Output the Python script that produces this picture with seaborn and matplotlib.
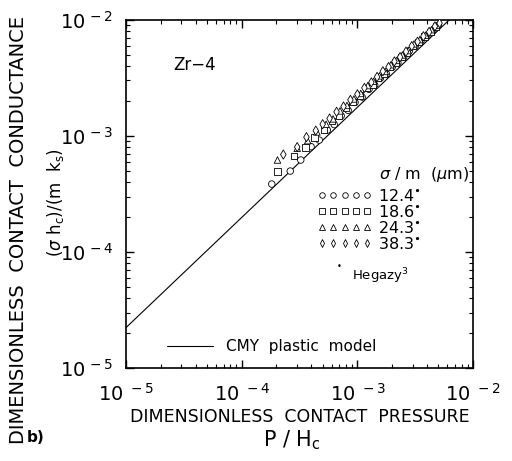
import numpy as np
import pandas as pd
import matplotlib
matplotlib.use('Agg')
import matplotlib.pyplot as plt
from matplotlib.lines import Line2D
from matplotlib import ticker
import seaborn as sns

# dados (Zr-4)
p_124 = [1.82e-4, 2.63e-4, 3.24e-4, 3.98e-4, 4.68e-4, 5.50e-4, 6.31e-4, 7.24e-4, 8.32e-4, 9.55e-4,
         1.10e-3, 1.26e-3, 1.41e-3, 1.58e-3, 1.78e-3, 2.00e-3, 2.24e-3, 2.51e-3, 2.82e-3, 3.16e-3,
         3.55e-3, 3.98e-3, 4.47e-3, 5.01e-3]
h_124 = [3.84e-4, 4.97e-4, 6.19e-4, 8.07e-4, 9.19e-4, 1.12e-3, 1.25e-3, 1.49e-3, 1.66e-3, 1.94e-3,
         2.16e-3, 2.52e-3, 2.75e-3, 3.14e-3, 3.42e-3, 3.91e-3, 4.26e-3, 4.75e-3, 5.43e-3, 5.92e-3,
         6.60e-3, 7.19e-3, 8.02e-3, 8.95e-3]

p_186 = [2.04e-4, 2.82e-4, 3.55e-4, 4.27e-4, 5.13e-4, 6.03e-4, 6.92e-4, 7.94e-4, 9.12e-4, 1.05e-3,
         1.20e-3, 1.35e-3, 1.51e-3, 1.70e-3, 1.91e-3, 2.14e-3, 2.40e-3, 2.69e-3, 3.02e-3, 3.39e-3,
         3.80e-3, 4.27e-3, 4.79e-3]
h_186 = [4.91e-4, 6.68e-4, 7.93e-4, 9.67e-4, 1.13e-3, 1.34e-3, 1.50e-3, 1.75e-3, 1.95e-3, 2.22e-3,
         2.59e-3, 2.76e-3, 3.15e-3, 3.43e-3, 3.92e-3, 4.27e-3, 4.76e-3, 5.19e-3, 5.93e-3, 6.46e-3,
         7.21e-3, 7.86e-3, 8.77e-3]

p_243 = [2.04e-4, 3.02e-4, 3.72e-4, 4.47e-4, 5.37e-4, 6.17e-4, 7.08e-4, 8.13e-4, 9.33e-4, 1.07e-3,
         1.23e-3, 1.38e-3, 1.55e-3, 1.74e-3, 1.95e-3, 2.19e-3, 2.45e-3, 2.75e-3, 3.09e-3, 3.47e-3,
         3.89e-3, 4.37e-3, 4.90e-3]
h_243 = [6.19e-4, 7.82e-4, 9.09e-4, 1.08e-3, 1.26e-3, 1.40e-3, 1.64e-3, 1.83e-3, 2.08e-3, 2.32e-3,
         2.71e-3, 2.95e-3, 3.29e-3, 3.59e-3, 4.10e-3, 4.47e-3, 4.98e-3, 5.43e-3, 6.20e-3, 6.76e-3,
         7.37e-3, 8.22e-3, 8.96e-3]

p_383 = [2.29e-4, 3.02e-4, 3.63e-4, 4.37e-4, 5.01e-4, 5.75e-4, 6.61e-4, 7.59e-4, 8.71e-4, 1.00e-3,
         1.15e-3, 1.32e-3, 1.48e-3, 1.66e-3, 1.86e-3, 2.09e-3, 2.34e-3, 2.63e-3, 2.95e-3, 3.31e-3,
         3.72e-3, 4.17e-3, 4.68e-3, 5.13e-3]
h_383 = [6.90e-4, 8.00e-4, 9.75e-4, 1.11e-3, 1.26e-3, 1.41e-3, 1.61e-3, 1.79e-3, 2.04e-3, 2.28e-3,
         2.59e-3, 2.89e-3, 3.22e-3, 3.60e-3, 3.92e-3, 4.38e-3, 4.77e-3, 5.32e-3, 5.93e-3, 6.47e-3,
         7.22e-3, 7.87e-3, 8.78e-3, 9.36e-3]

# modelo CMY (extremos da reta)
p_cmy = [1e-5, 1e-2]
h_cmy = [2.22e-5, 1.57e-2]

series = ['12.4', '18.6', '24.3', '38.3']
marcadores = {'12.4': 'o', '18.6': 's', '24.3': '^', '38.3': 'd'}
tick_vals = [1e-5, 1e-4, 1e-3, 1e-2]
xtick_labels = [r'$10^{\ -5}$', r'$10^{\ -4}$', r'$10^{\ -3}$', r'$10^{\ -2}$']
ytick_labels = [r'$10^{\,-5}$', r'$10^{\,-4}$', r'$10^{\,-3}$', r'$10^{\,-2}$']

dados = pd.concat([
    pd.DataFrame({'P': p_124, 'h': h_124, 'sigma': '12.4'}),
    pd.DataFrame({'P': p_186, 'h': h_186, 'sigma': '18.6'}),
    pd.DataFrame({'P': p_243, 'h': h_243, 'sigma': '24.3'}),
    pd.DataFrame({'P': p_383, 'h': h_383, 'sigma': '38.3'}),
])

sns.set_style('ticks')
plt.rcParams['font.family'] = ['DejaVu Sans']
plt.rcParams['mathtext.fontset'] = 'dejavusans'
plt.rcParams['text.color'] = 'black'
plt.rcParams['axes.labelcolor'] = 'black'
plt.rcParams['xtick.color'] = 'black'
plt.rcParams['ytick.color'] = 'black'

fig = plt.figure(figsize=(5.12, 4.61), dpi=100)
ax = fig.add_axes([0.246, 0.202, 0.678, 0.755])

sns.lineplot(x=p_cmy, y=h_cmy, ax=ax, color='black', linewidth=0.8)
sns.scatterplot(data=dados, x='P', y='h', style='sigma', markers=marcadores, ax=ax,
                color='white', edgecolor='black', linewidth=0.6, s=22, legend=False, zorder=3)

ax.set_xscale('log')
ax.set_yscale('log')
ax.set_xlim(1e-5, 1e-2)
ax.set_ylim(1e-5, 1e-2)
ax.set_xticks(tick_vals, xtick_labels)
ax.set_yticks(tick_vals, ytick_labels)
for eixo in (ax.xaxis, ax.yaxis):
    eixo.set_minor_locator(ticker.LogLocator(base=10, subs=np.arange(2, 10)))
    eixo.set_minor_formatter(ticker.NullFormatter())
ax.tick_params(which='both', direction='in', top=True, right=True, labelsize=14)
ax.tick_params(which='major', length=6, width=1)
ax.tick_params(which='minor', length=3, width=0.8)
ax.tick_params(axis='x', pad=11)
ax.tick_params(axis='y', pad=9)
for s in ax.spines.values():
    s.set_linewidth(1.2)
    s.set_color('black')

ax.set_xlabel('DIMENSIONLESS  CONTACT  PRESSURE', fontsize=12.5, labelpad=2)
ax.set_ylabel('')

fig.text(0.57, 0.045, r'P / H$_{\rm c}$', fontsize=15, ha='center', va='center')
fig.text(0.037, 0.5, 'DIMENSIONLESS  CONTACT  CONDUCTANCE', fontsize=14, rotation=90,
         ha='center', va='center')
fig.text(0.108, 0.56, r'($\sigma$ h$_{\rm c}$)/(m  k$_{\rm s}$)', fontsize=12, rotation=90,
         ha='center', va='center')
fig.text(0.07, 0.05, 'b)', fontsize=11, fontweight='bold', ha='center', va='center')

ax.text(0.135, 0.871, 'Zr−4', transform=ax.transAxes, fontsize=12, va='center')

# legenda do modelo
leg1 = ax.legend(handles=[Line2D([], [], color='black', linewidth=0.8)],
                 labels=['CMY  plastic  model'], loc='center left',
                 bbox_to_anchor=(0.08, 0.06), frameon=False, fontsize=11,
                 handlelength=3.0)
ax.add_artist(leg1)

# legenda das rugosidades
handles = [Line2D([], [], linestyle='none', marker=marcadores[k], markerfacecolor='white',
                  markeredgecolor='black', markersize=4, markeredgewidth=0.6) for k in series]
rotulos = [k + r'$^{\bullet}$' for k in series]
ax.legend(handles=handles, labels=rotulos, loc='center left', bbox_to_anchor=(0.51, 0.425),
          frameon=False, fontsize=11.5, numpoints=5, handlelength=3.4, handletextpad=0.4,
          labelspacing=0.0)
ax.text(0.73, 0.555, r'$\sigma$ / m  ($\mu$m)', transform=ax.transAxes, fontsize=11.5, va='center')
ax.text(0.615, 0.29, '•', transform=ax.transAxes, fontsize=6, va='center', ha='center')
ax.text(0.65, 0.262, r'Hegazy$^3$', transform=ax.transAxes, fontsize=9.5, va='center')

fig.savefig('out.png', dpi=100)
